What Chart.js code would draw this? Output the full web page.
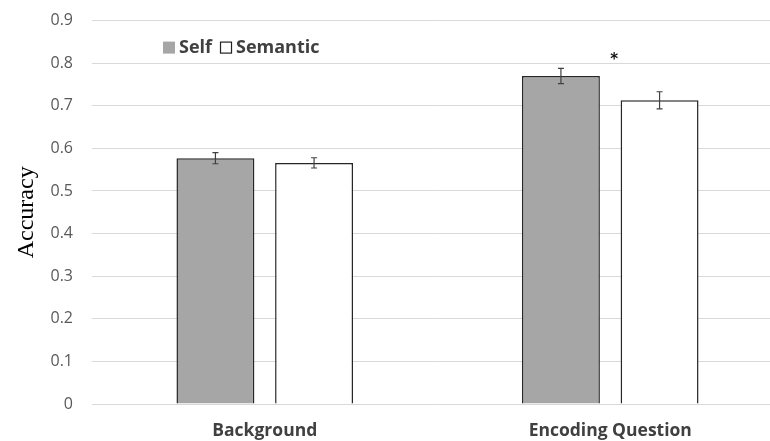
<!DOCTYPE html>
<html>
<head>
<meta charset="utf-8">
<script src="https://cdn.jsdelivr.net/npm/chart.js@4/dist/chart.umd.min.js"></script>
<style>
  html, body { margin: 0; padding: 0; background: #fff; overflow: hidden; }
  #wrap { width: 770px; height: 441px; overflow: hidden; position: relative; }
  canvas { display: block; position: absolute; left: 0; top: -8px; }
</style>
</head>
<body>
<div id="wrap"><canvas id="c" width="783" height="449"></canvas></div>
<script>
// Accuracy by condition (mean ± standard error)
const categories = ['Background', 'Encoding Question'];
const selfAcc = [0.577, 0.770];
const semanticAcc = [0.566, 0.713];
const selfErr = [0.013, 0.018];
const semanticErr = [0.012, 0.020];
const yTicks = [0, 0.1, 0.2, 0.3, 0.4, 0.5, 0.6, 0.7, 0.8, 0.9];
const seriesNames = ['Self', 'Semantic'];
const significant = [false, true];

const labelFont = '"Open Sans", sans-serif';

// Error bars drawn from each dataset's errors array
const errorBars = {
  id: 'errorBars',
  afterDatasetsDraw(chart) {
    const ctx = chart.ctx;
    const y = chart.scales.y;
    ctx.save();
    ctx.strokeStyle = '#404040';
    ctx.lineWidth = 1.2;
    chart.data.datasets.forEach((ds, di) => {
      const meta = chart.getDatasetMeta(di);
      meta.data.forEach((bar, i) => {
        const v = ds.data[i], e = ds.errors[i];
        const x = bar.x;
        const top = y.getPixelForValue(v + e);
        const bot = y.getPixelForValue(v - e);
        ctx.beginPath();
        ctx.moveTo(x, top); ctx.lineTo(x, bot);
        ctx.moveTo(x - 3, top); ctx.lineTo(x + 3, top);
        ctx.moveTo(x - 3, bot); ctx.lineTo(x + 3, bot);
        ctx.stroke();
      });
    });
    // significance marker between the paired bars
    ctx.fillStyle = '#111';
    ctx.font = 'bold 15px "DejaVu Sans", sans-serif';
    ctx.textAlign = 'center';
    ctx.textBaseline = 'middle';
    significant.forEach((sig, i) => {
      if (!sig) return;
      const a = chart.getDatasetMeta(0).data[i];
      const b = chart.getDatasetMeta(1).data[i];
      const x = (a.x + b.x) / 2 + 4;
      const yy = y.getPixelForValue(Math.max(selfAcc[i] + selfErr[i], semanticAcc[i] + semanticErr[i])) - 8;
      ctx.fillText('*', x, yy);
    });
    ctx.restore();
  }
};

// Legend placed inside the plot area, upper left
const insideLegend = {
  id: 'insideLegend',
  afterDraw(chart) {
    const ctx = chart.ctx;
    const area = chart.chartArea;
    ctx.save();
    ctx.font = 'bold 18px ' + labelFont;
    ctx.textBaseline = 'middle';
    ctx.textAlign = 'left';
    let x = area.left + 71;
    const yMid = area.top + 27;
    chart.data.datasets.forEach((ds, i) => {
      ctx.fillStyle = ds.backgroundColor;
      ctx.fillRect(x, yMid - 6, 12, 12);
      if (i === 1) {
        ctx.strokeStyle = '#222';
        ctx.lineWidth = 1.2;
        ctx.strokeRect(x + 0.5, yMid - 5.5, 11, 11);
      }
      x += 16;
      ctx.fillStyle = '#404040';
      ctx.fillText(ds.label, x, yMid);
      x += ctx.measureText(ds.label).width + 8;
    });
    ctx.restore();
  }
};

new Chart(document.getElementById('c'), {
  type: 'bar',
  data: {
    labels: categories,
    datasets: [
      { label: seriesNames[0], data: selfAcc, errors: selfErr,
        backgroundColor: '#a6a6a6', borderColor: '#262626', borderWidth: 1.5,
        categoryPercentage: 0.571, barPercentage: 0.79 },
      { label: seriesNames[1], data: semanticAcc, errors: semanticErr,
        backgroundColor: '#ffffff', borderColor: '#262626', borderWidth: 1.5,
        categoryPercentage: 0.571, barPercentage: 0.79 }
    ]
  },
  options: {
    responsive: false,
    animation: false,
    layout: { padding: { top: 0, left: 0, right: 0, bottom: 0 } },
    plugins: { legend: { display: false }, tooltip: { enabled: false } },
    scales: {
      x: {
        grid: { display: false, drawTicks: false },
        border: { display: false },
        ticks: {
          color: '#404040',
          font: { family: labelFont, size: 17.5, weight: 'bold' },
          padding: 17
        },
        afterFit(scale) { scale.height = 37; }
      },
      y: {
        min: 0, max: 0.9,
        afterBuildTicks(scale) { scale.ticks = yTicks.map(v => ({ value: v })); },
        grid: { color: '#d9d9d9', lineWidth: 1, drawTicks: false },
        border: { display: false },
        ticks: {
          color: '#595959',
          font: { family: '"Open Sans", sans-serif', size: 16 },
          padding: 19,
          callback: v => String(v)
        },
        title: {
          display: true,
          text: 'Accuracy',
          color: '#000',
          font: { family: '"Liberation Serif", "Times New Roman", serif', size: 24 },
          padding: { top: 12, bottom: 0 }
        },
        afterFit(scale) { scale.width = 92; }
      }
    }
  },
  plugins: [errorBars, insideLegend]
});
</script>
</body>
</html>
